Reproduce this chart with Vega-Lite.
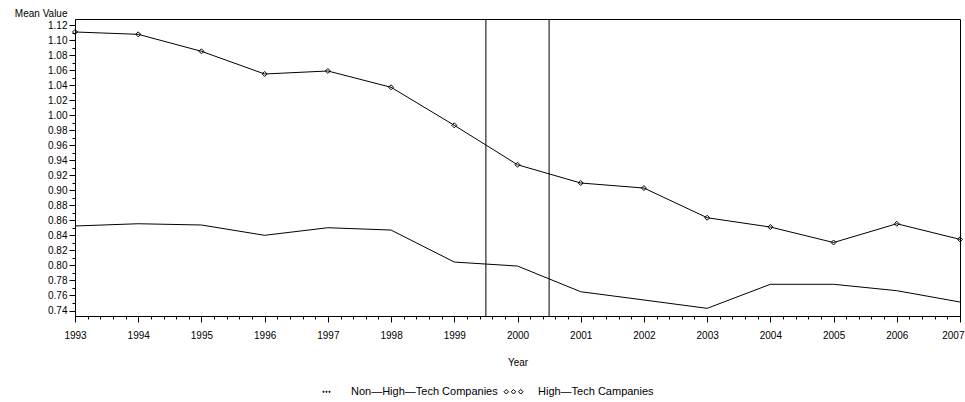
{
  "$schema": "https://vega.github.io/schema/vega-lite/v6.json",
  "width": 885,
  "height": 297,
  "autosize": "none",
  "padding": {"left": 75, "top": 19, "right": 5, "bottom": 86},
  "background": "white",
  "config": {
    "font": "Liberation Sans",
    "view": {"stroke": "black", "strokeWidth": 1},
    "axis": {
      "grid": false,
      "domainColor": "black",
      "tickColor": "black",
      "labelColor": "black",
      "titleColor": "black",
      "labelFont": "Liberation Sans",
      "titleFont": "Liberation Sans",
      "labelFontSize": 10,
      "titleFontSize": 10,
      "titleFontWeight": "normal",
      "domainWidth": 1,
      "tickWidth": 1
    }
  },
  "datasets": {
    "main": [
      {"year": 1993, "value": 1.1107, "series": "High—Tech Campanies"},
      {"year": 1994, "value": 1.1076, "series": "High—Tech Campanies"},
      {"year": 1995, "value": 1.085, "series": "High—Tech Campanies"},
      {"year": 1996, "value": 1.0548, "series": "High—Tech Campanies"},
      {"year": 1997, "value": 1.0588, "series": "High—Tech Campanies"},
      {"year": 1998, "value": 1.0371, "series": "High—Tech Campanies"},
      {"year": 1999, "value": 0.9865, "series": "High—Tech Campanies"},
      {"year": 2000, "value": 0.934, "series": "High—Tech Campanies"},
      {"year": 2001, "value": 0.9097, "series": "High—Tech Campanies"},
      {"year": 2002, "value": 0.903, "series": "High—Tech Campanies"},
      {"year": 2003, "value": 0.8635, "series": "High—Tech Campanies"},
      {"year": 2004, "value": 0.8511, "series": "High—Tech Campanies"},
      {"year": 2005, "value": 0.8305, "series": "High—Tech Campanies"},
      {"year": 2006, "value": 0.8555, "series": "High—Tech Campanies"},
      {"year": 2007, "value": 0.8347, "series": "High—Tech Campanies"},
      {"year": 1993, "value": 0.8525, "series": "Non—High—Tech Companies"},
      {"year": 1994, "value": 0.8555, "series": "Non—High—Tech Companies"},
      {"year": 1995, "value": 0.8538, "series": "Non—High—Tech Companies"},
      {"year": 1996, "value": 0.8401, "series": "Non—High—Tech Companies"},
      {"year": 1997, "value": 0.8502, "series": "Non—High—Tech Companies"},
      {"year": 1998, "value": 0.8471, "series": "Non—High—Tech Companies"},
      {"year": 1999, "value": 0.8045, "series": "Non—High—Tech Companies"},
      {"year": 2000, "value": 0.7992, "series": "Non—High—Tech Companies"},
      {"year": 2001, "value": 0.765, "series": "Non—High—Tech Companies"},
      {"year": 2002, "value": 0.754, "series": "Non—High—Tech Companies"},
      {"year": 2003, "value": 0.7429, "series": "Non—High—Tech Companies"},
      {"year": 2004, "value": 0.7749, "series": "Non—High—Tech Companies"},
      {"year": 2005, "value": 0.7749, "series": "Non—High—Tech Companies"},
      {"year": 2006, "value": 0.7664, "series": "Non—High—Tech Companies"},
      {"year": 2007, "value": 0.7513, "series": "Non—High—Tech Companies"}
    ],
    "refs": [{"ref": 1999.5}, {"ref": 2000.5}]
  },
  "layer": [
    {
      "data": {"name": "refs"},
      "mark": {"type": "rule", "color": "black", "strokeWidth": 1},
      "encoding": {
        "x": {"field": "ref", "type": "quantitative", "axis": null}
      }
    },
    {
      "data": {"name": "main"},
      "mark": {"type": "line", "color": "black", "strokeWidth": 1},
      "encoding": {
        "x": {
          "field": "year", "type": "quantitative",
          "scale": {"domain": [1993, 2007], "nice": false, "zero": false},
          "axis": {
            "orient": "bottom", "title": "Year",
            "values": [1993, 1994, 1995, 1996, 1997, 1998, 1999, 2000, 2001, 2002, 2003, 2004, 2005, 2006, 2007],
            "format": "d", "tickSize": 6, "labelPadding": 8, "titlePadding": 17,
            "labelOverlap": false, "labelFlush": false,
            "labelAlign": {"condition": {"test": "datum.value >= 2007", "value": "right"}, "value": "center"},
            "labelOffset": {"condition": {"test": "datum.value >= 2007", "value": 4}, "value": 0}
          }
        },
        "y": {
          "field": "value", "type": "quantitative",
          "scale": {"domain": [0.7327, 1.128], "nice": false, "zero": false},
          "axis": {
            "orient": "left", "title": "Mean Value",
            "values": [0.74, 0.76, 0.78, 0.8, 0.82, 0.84, 0.86, 0.88, 0.9, 0.92, 0.94, 0.96, 0.98, 1.0, 1.02, 1.04, 1.06, 1.08, 1.1, 1.12],
            "format": ".2f", "tickSize": 6, "labelPadding": 2,
            "titleAngle": 0, "titleAlign": "right", "titleBaseline": "middle",
            "titleX": -8, "titleY": -6, "labelOverlap": false
          }
        },
        "detail": {"field": "series", "type": "nominal"}
      }
    },
    {
      "data": {"name": "main"},
      "transform": [{"filter": {"field": "series", "equal": "High—Tech Campanies"}}],
      "mark": {"type": "point", "shape": "diamond", "size": 25, "filled": false, "color": "black", "strokeWidth": 1, "opacity": 1},
      "encoding": {
        "x": {
          "field": "year", "type": "quantitative",
          "axis": {
            "orient": "bottom", "title": null, "labels": false, "domain": false, "tickSize": 3,
            "values": [1993.2, 1993.4, 1993.6, 1993.8, 1994.2, 1994.4, 1994.6, 1994.8, 1995.2, 1995.4, 1995.6, 1995.8, 1996.2, 1996.4, 1996.6, 1996.8, 1997.2, 1997.4, 1997.6, 1997.8, 1998.2, 1998.4, 1998.6, 1998.8, 1999.2, 1999.4, 1999.6, 1999.8, 2000.2, 2000.4, 2000.6, 2000.8, 2001.2, 2001.4, 2001.6, 2001.8, 2002.2, 2002.4, 2002.6, 2002.8, 2003.2, 2003.4, 2003.6, 2003.8, 2004.2, 2004.4, 2004.6, 2004.8, 2005.2, 2005.4, 2005.6, 2005.8, 2006.2, 2006.4, 2006.6, 2006.8]
          }
        },
        "y": {
          "field": "value", "type": "quantitative",
          "axis": {
            "orient": "left", "title": null, "labels": false, "domain": false, "tickSize": 3,
            "values": [0.75, 0.77, 0.79, 0.81, 0.83, 0.85, 0.87, 0.89, 0.91, 0.93, 0.95, 0.97, 0.99, 1.01, 1.03, 1.05, 1.07, 1.09, 1.11]
          }
        }
      }
    },
    {
      "data": {"name": "main"},
      "mark": {"type": "point", "filled": false, "color": "black", "opacity": 0, "strokeWidth": 1},
      "encoding": {
        "x": {"field": "year", "type": "quantitative", "axis": null},
        "y": {"field": "value", "type": "quantitative", "axis": null},
        "shape": {
          "field": "series", "type": "nominal",
          "scale": {
            "domain": ["Non—High—Tech Companies", "High—Tech Campanies"],
            "range": [
              "M-0.7,-0.1h0.2v0.2h-0.2z M-0.1,-0.1h0.2v0.2h-0.2z M0.5,-0.1h0.2v0.2h-0.2z",
              "M-1.9,0L-1.45,-0.45L-1,0L-1.45,0.45Z M-0.45,0L0,-0.45L0.45,0L0,0.45Z M1,0L1.45,-0.45L1.9,0L1.45,0.45Z"
            ]
          },
          "legend": {
            "orient": "none", "legendX": 246, "legendY": 367,
            "direction": "horizontal", "title": null,
            "labelFont": "Liberation Sans", "labelFontSize": 11, "labelColor": "black",
            "labelOffset": 19, "columnPadding": 4, "symbolSize": 100,
            "symbolStrokeColor": "black", "symbolStrokeWidth": 1, "symbolOpacity": 1,
            "padding": 0
          }
        }
      }
    }
  ],
  "resolve": {"axis": {"x": "independent", "y": "independent"}}
}
